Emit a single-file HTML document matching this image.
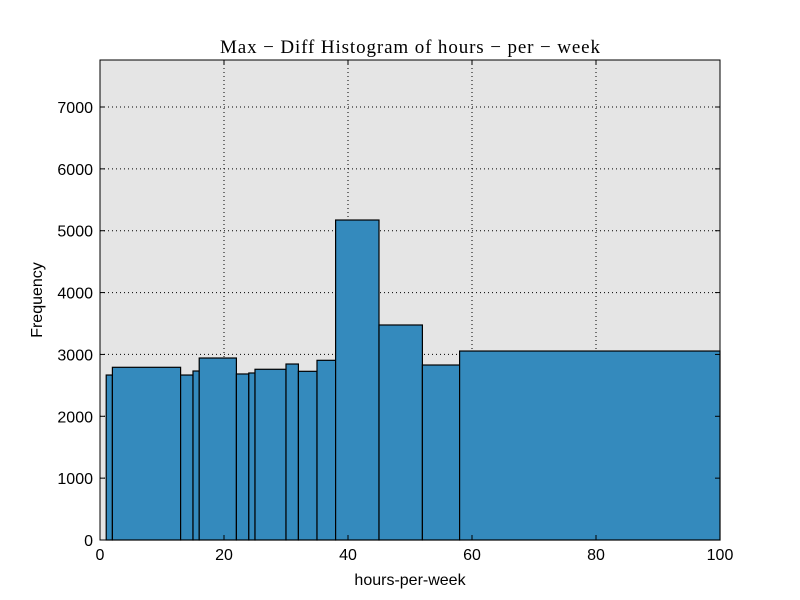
<!DOCTYPE html>
<html><head><meta charset="utf-8"><style>
body{margin:0;background:#fff;}
svg{display:block;font-family:"Liberation Sans",sans-serif;}
</style></head><body>
<svg id="chart" width="800" height="600">
<rect x="0" y="0" width="800" height="600" fill="#fff"/>
<rect x="100" y="60" width="620" height="480" fill="#e5e5e5"/>
<g id="grid"></g>
<g id="bars"></g>
<rect x="100" y="60" width="620" height="480" fill="none" stroke="#000" stroke-width="1"/>
<g id="ticks"></g>
<text x="220" y="53" textLength="380" lengthAdjust="spacing" font-family="'Liberation Serif',serif" font-size="19">Max − Diff Histogram of hours − per − week</text>
<text x="410" y="585" text-anchor="middle" font-size="16">hours-per-week</text>
<text x="42" y="300" text-anchor="middle" font-size="16" transform="rotate(-90 42 300)">Frequency</text>
</svg>
<script>
const binEdges=[1,2,13,15,16,22,24,25,30,32,35,38,45,52,58,100];
const counts=[2667,2792,2667,2732,2942,2684,2700,2760,2845,2727,2905,5173,3476,2829,3055];
const xTicks=[0,20,40,60,80,100];
const yTicks=[0,1000,2000,3000,4000,5000,6000,7000];
const NS="http://www.w3.org/2000/svg";
const xs=v=>100+v*6.2;
const ys=v=>540-v*(480/7760);
const bars=document.getElementById('bars'),grid=document.getElementById('grid'),ticks=document.getElementById('ticks');
function mk(tag,attrs,parent){const e=document.createElementNS(NS,tag);for(const k in attrs)e.setAttribute(k,attrs[k]);parent.appendChild(e);return e;}
for(let i=0;i<counts.length;i++){
  const x0=xs(binEdges[i]),x1=xs(binEdges[i+1]),y=ys(counts[i]);
  const r=mk('rect',{x:x0,y:y,width:x1-x0,height:540-y,fill:'#348abd',stroke:'#000','stroke-width':1.2},bars);
  
  
}
xTicks.forEach(t=>{
  const x=xs(t);
  if(t>0&&t<100){const g=mk('line',{x1:x,x2:x,y1:60,y2:540,stroke:'#000','stroke-dasharray':'1,3','stroke-width':1},grid);
  
  }
  mk('line',{x1:x,x2:x,y1:540,y2:535,stroke:'#000'},ticks);
  mk('line',{x1:x,x2:x,y1:60,y2:65,stroke:'#000'},ticks);
  const tx=mk('text',{x:x,y:560,'text-anchor':'middle','font-size':16},ticks);tx.textContent=t;
  
  
});
yTicks.forEach(t=>{
  const y=ys(t);
  if(t>0){const g=mk('line',{x1:100,x2:720,y1:y,y2:y,stroke:'#000','stroke-dasharray':'1,3','stroke-width':1},grid);
  
  }
  mk('line',{x1:100,x2:105,y1:y,y2:y,stroke:'#000'},ticks);
  mk('line',{x1:715,x2:720,y1:y,y2:y,stroke:'#000'},ticks);
  const tx=mk('text',{x:93,y:y+6,'text-anchor':'end','font-size':16},ticks);tx.textContent=t;
  
  
});
</script>
</body></html>
